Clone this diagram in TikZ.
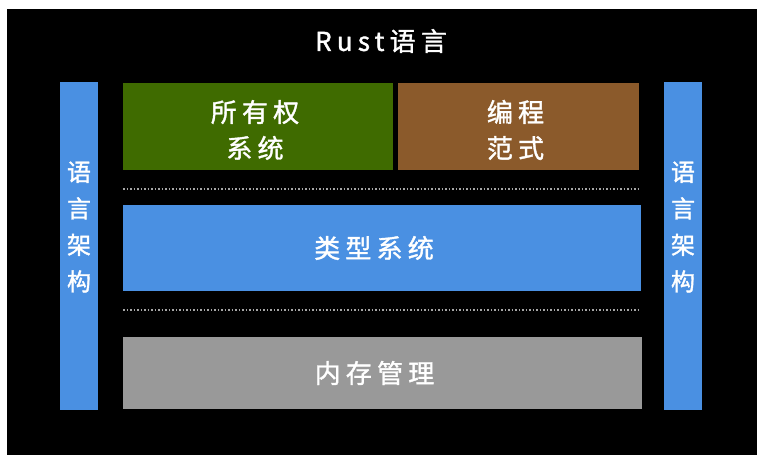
\documentclass[tikz,border=0pt]{standalone}
\usepackage{fontspec}
\newfontfamily\cjk{Noto Sans CJK SC}[LetterSpace=20, FakeBold=1.4]
\usetikzlibrary{positioning}

\definecolor{barblue}{RGB}{74,144,226}
\definecolor{owngreen}{RGB}{63,107,0}
\definecolor{parabrown}{RGB}{139,90,43}
\definecolor{memgray}{RGB}{153,153,153}

\tikzset{
  block/.style={inner sep=0pt},
  lbl/.style={inner sep=0pt, text=white, align=center,
    font=\cjk\fontsize{26}{36}\selectfont},
  sidebar/.style={block, fill=barblue, minimum width=38pt, minimum height=328pt},
  sep/.style={gray!70, line width=1.5pt, dotted}
}

\begin{document}
\begin{tikzpicture}[x=1pt,y=-1pt]
  \useasboundingbox (0,0) rectangle (766,466);
  \fill[white] (0,0) rectangle (766,466);
  \fill[black] (7,9) rectangle (757,455);
  % title
  \node[lbl] (title) at (381,41) {Rust语言};
  % side bars
  \node[sidebar] (left) at (79,246) {};
  \node[sidebar] (right) at (683,246) {};
  \node[lbl, font=\cjk\fontsize{24}{36.5}\selectfont] (leftlbl) at ([yshift=19pt]left.center) {语\\言\\架\\构};
  \node[lbl, font=\cjk\fontsize{24}{36.5}\selectfont] (rightlbl) at ([yshift=19pt]right.center) {语\\言\\架\\构};
  % upper row
  \node[block, fill=owngreen, minimum width=270pt, minimum height=87pt] (own) at (258,126.5) {};
  \node[lbl] (ownlbl) at ([xshift=-3pt,yshift=-3.5pt]own.center) {所有权\\系统};
  \node[block, fill=parabrown, minimum width=241pt, minimum height=87pt] (para) at (518.5,126.5) {};
  \node[lbl] (paralbl) at ([xshift=-3pt,yshift=-3.5pt]para.center) {编程\\范式};
  \draw[sep] (123,189) -- (641,189);
  % type system
  \node[block, fill=barblue, minimum width=518pt, minimum height=86pt] (types) at (382,248) {};
  \node[lbl] (typeslbl) at ([xshift=-8pt]types.center) {类型系统};
  \draw[sep] (123,310) -- (641,310);
  % memory
  \node[block, fill=memgray, minimum width=519pt, minimum height=72pt] (mem) at (382.5,373) {};
  \node[lbl] (memlbl) at ([xshift=-8pt]mem.center) {内存管理};
\end{tikzpicture}
\end{document}
